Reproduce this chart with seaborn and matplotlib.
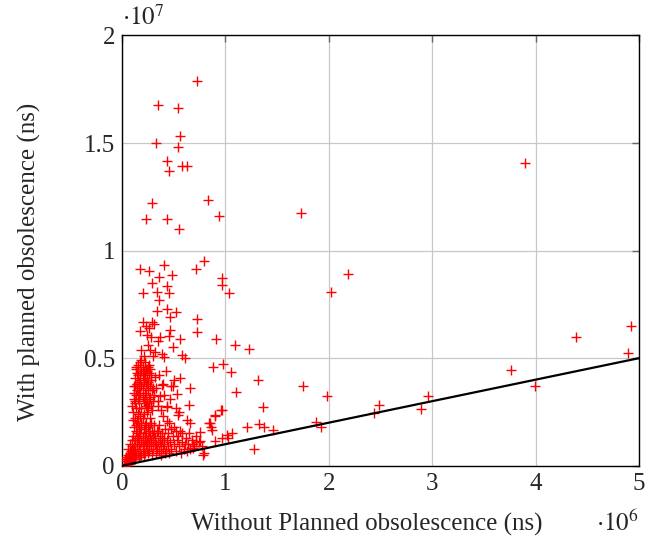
import numpy as np
import pandas as pd
import seaborn as sns
import matplotlib
matplotlib.use('Agg')
import matplotlib.pyplot as plt
from matplotlib.ticker import FuncFormatter

# x values in units of 1e6 ns, y values in units of 1e7 ns

# isolated points far from the cluster
far_x = [0.726, 0.347, 0.546, 0.566, 0.327, 0.546, 0.439, 0.459, 0.578, 0.626,
         3.896, 0.287, 0.235, 0.435, 0.554, 0.838, 0.942, 1.728,
         2.026, 2.191, 0.913, 1.097, 1.233, 0.877, 0.974, 1.058, 1.314, 1.107,
         1.754, 1.981, 1.362, 0.961, 0.903, 2.485, 2.440, 2.961, 2.893,
         3.760, 3.993, 4.388, 4.919, 4.893, 1.880, 1.929, 1.282,
         1.210, 1.323, 1.372, 1.463, 0.867, 0.845]
far_y = [1.790, 1.675, 1.663, 1.531, 1.502, 1.482, 1.417, 1.369, 1.395, 1.392,
         1.405, 1.223, 1.146, 1.149, 1.100, 1.234, 1.163, 1.173,
         0.809, 0.889, 0.588, 0.560, 0.544, 0.458, 0.473, 0.435, 0.399, 0.342,
         0.371, 0.325, 0.272, 0.260, 0.229, 0.284, 0.245, 0.323, 0.263,
         0.445, 0.371, 0.597, 0.650, 0.523, 0.201, 0.180, 0.080,
         0.182, 0.195, 0.182, 0.164, 0.180, 0.198]

# upper scattered group (0.5 .. 1.0)
upper_x = [0.175, 0.265, 0.410, 0.790, 0.718, 0.362, 0.485, 0.288, 0.207, 0.337,
           0.434, 0.460, 0.362, 0.337, 0.440, 0.524, 0.466, 0.207, 0.288, 0.175,
           0.265, 0.466, 0.279, 0.369, 0.460, 0.563, 0.498, 0.272, 0.298, 0.408,
           0.580, 0.612, 0.725, 0.731, 0.968, 0.968, 1.039, 0.255, 0.320, 0.230,
           0.390, 0.350, 0.190, 0.245, 0.310, 0.215]
upper_y = [0.913, 0.906, 0.933, 0.953, 0.913, 0.878, 0.885, 0.848, 0.804, 0.809,
           0.835, 0.804, 0.770, 0.721, 0.730, 0.715, 0.693, 0.670, 0.670, 0.626,
           0.639, 0.631, 0.597, 0.597, 0.603, 0.588, 0.554, 0.538, 0.510, 0.507,
           0.515, 0.500, 0.681, 0.623, 0.871, 0.840, 0.801, 0.560, 0.530, 0.650,
           0.520, 0.580, 0.540, 0.610, 0.660, 0.510]

# dense vertical spine (0.25 .. 0.5)
spine_x = [0.10, 0.12, 0.13, 0.14, 0.15, 0.16, 0.17, 0.18, 0.19, 0.20,
           0.21, 0.22, 0.23, 0.24, 0.25, 0.26, 0.27, 0.28, 0.29, 0.30,
           0.11, 0.13, 0.15, 0.17, 0.19, 0.21, 0.23, 0.25, 0.27, 0.29,
           0.12, 0.14, 0.16, 0.18, 0.20, 0.22, 0.24, 0.26, 0.28, 0.31,
           0.14, 0.17, 0.20, 0.23, 0.26, 0.19, 0.22, 0.25, 0.16, 0.21,
           0.18, 0.20, 0.23, 0.15, 0.24, 0.22, 0.27, 0.19, 0.17, 0.21,
           0.13, 0.16, 0.25, 0.28, 0.12, 0.18, 0.26, 0.30, 0.14, 0.22]
spine_y = [0.28, 0.34, 0.41, 0.45, 0.38, 0.47, 0.31, 0.43, 0.49, 0.36,
           0.44, 0.48, 0.33, 0.40, 0.46, 0.29, 0.37, 0.42, 0.35, 0.30,
           0.25, 0.30, 0.43, 0.39, 0.27, 0.41, 0.45, 0.35, 0.32, 0.26,
           0.37, 0.27, 0.33, 0.48, 0.46, 0.29, 0.38, 0.43, 0.40, 0.33,
           0.46, 0.36, 0.42, 0.38, 0.31, 0.44, 0.34, 0.27, 0.31, 0.39,
           0.40, 0.32, 0.28, 0.35, 0.44, 0.41, 0.45, 0.37, 0.27, 0.30,
           0.37, 0.42, 0.39, 0.28, 0.31, 0.34, 0.47, 0.36, 0.33, 0.43]

# middle spread (0.2 .. 0.45)
mid_x = [0.563, 0.660, 0.498, 0.531, 0.473, 0.385, 0.320, 0.369, 0.240, 0.126,
         0.143, 0.547, 0.660, 0.654, 0.35, 0.38, 0.41, 0.44, 0.47, 0.52,
         0.55, 0.40, 0.36, 0.43, 0.33, 0.50, 0.108, 0.347, 0.435, 0.626]
mid_y = [0.407, 0.361, 0.371, 0.334, 0.371, 0.376, 0.414, 0.322, 0.291, 0.291,
         0.380, 0.237, 0.198, 0.282, 0.30, 0.26, 0.33, 0.28, 0.31, 0.27,
         0.25, 0.38, 0.42, 0.44, 0.36, 0.40, 0.214, 0.278, 0.272, 0.214]

# dense base cluster near the diagonal (0 .. 0.25)
base_x = [0.02, 0.03, 0.04, 0.05, 0.05, 0.06, 0.06, 0.07, 0.07, 0.08,
          0.08, 0.09, 0.09, 0.10, 0.10, 0.11, 0.11, 0.12, 0.12, 0.04,
          0.03, 0.06, 0.08, 0.10,
          0.13, 0.13, 0.14, 0.14, 0.15, 0.15, 0.16, 0.16, 0.17, 0.17,
          0.18, 0.18, 0.18, 0.19, 0.19, 0.20, 0.20, 0.21, 0.21, 0.21,
          0.22, 0.22, 0.23, 0.23, 0.24, 0.24, 0.25, 0.25, 0.26, 0.26,
          0.27, 0.27, 0.28, 0.28, 0.29, 0.30, 0.30, 0.31, 0.32, 0.32,
          0.12, 0.13, 0.11, 0.16, 0.19, 0.22, 0.24, 0.17, 0.20, 0.15,
          0.33, 0.34, 0.35, 0.36, 0.37, 0.38, 0.39, 0.40, 0.41, 0.42,
          0.43, 0.44, 0.45, 0.46, 0.47, 0.48, 0.49, 0.50, 0.52, 0.53,
          0.55, 0.56, 0.58, 0.60, 0.62, 0.64, 0.66, 0.68, 0.70, 0.72,
          0.75, 0.78, 0.36, 0.40, 0.44, 0.50, 0.58, 0.34, 0.38, 0.42,
          0.968, 0.903, 0.757, 0.870, 1.017, 1.065, 1.030, 0.790, 0.690,
          0.968, 0.903, 0.757, 0.854, 0.722, 0.785,
          0.07, 0.09, 0.11, 0.13, 0.15, 0.17, 0.19, 0.21, 0.23, 0.25,
          0.27, 0.29, 0.31, 0.33, 0.35, 0.37, 0.39, 0.41, 0.45, 0.48,
          0.14, 0.16, 0.18, 0.20, 0.22, 0.26, 0.28, 0.30, 0.12, 0.10,
          0.54, 0.61, 0.65, 0.57, 0.46, 0.52, 0.63, 0.69]
base_y = [0.005, 0.01, 0.02, 0.01, 0.03, 0.02, 0.05, 0.01, 0.04, 0.03,
          0.06, 0.02, 0.05, 0.04, 0.07, 0.03, 0.06, 0.05, 0.09, 0.04,
          0.03, 0.08, 0.10, 0.12,
          0.07, 0.12, 0.05, 0.16, 0.09, 0.21, 0.06, 0.13, 0.10, 0.18,
          0.08, 0.15, 0.23, 0.11, 0.20, 0.07, 0.14, 0.09, 0.17, 0.24,
          0.12, 0.06, 0.15, 0.20, 0.08, 0.11, 0.13, 0.18, 0.07, 0.10,
          0.14, 0.22, 0.09, 0.12, 0.16, 0.08, 0.11, 0.19, 0.10, 0.13,
          0.18, 0.22, 0.14, 0.24, 0.05, 0.19, 0.25, 0.14, 0.10, 0.12,
          0.06, 0.08, 0.11, 0.07, 0.14, 0.09, 0.12, 0.08, 0.10, 0.17,
          0.07, 0.12, 0.09, 0.20, 0.11, 0.08, 0.14, 0.10, 0.07, 0.12,
          0.09, 0.16, 0.11, 0.08, 0.13, 0.10, 0.08, 0.12, 0.09, 0.14,
          0.11, 0.09, 0.19, 0.23, 0.21, 0.18, 0.15, 0.16, 0.05, 0.06,
          0.257, 0.237, 0.159, 0.167, 0.144, 0.151, 0.128, 0.059, 0.082,
          0.128, 0.113, 0.113, 0.198, 0.110, 0.049,
          0.02, 0.07, 0.08, 0.03, 0.15, 0.04, 0.17, 0.05, 0.10, 0.06,
          0.19, 0.05, 0.15, 0.10, 0.16, 0.11, 0.15, 0.13, 0.15, 0.17,
          0.19, 0.20, 0.05, 0.22, 0.14, 0.16, 0.20, 0.14, 0.03, 0.09,
          0.14, 0.10, 0.15, 0.06, 0.06, 0.16, 0.07, 0.10]

# reference line y = x
line_x = [0.0, 5.0e6]
line_y = [0.0, 5.0e6]

groups = [(far_x, far_y), (upper_x, upper_y), (spine_x, spine_y),
          (mid_x, mid_y), (base_x, base_y)]
frames = []
for gx, gy in groups:
    frames.append(pd.DataFrame({'without': np.array(gx) * 1e6,
                                'with': np.array(gy) * 1e7}))
df = pd.concat(frames, axis=0, ignore_index=True)

sns.set_theme(style='white')
plt.rcParams['font.family'] = ['Liberation Serif', 'DejaVu Serif']
plt.rcParams['mathtext.fontset'] = 'stix'

fig = plt.figure(figsize=(6.48, 5.46), dpi=100)
ax = fig.add_axes([0.188, 0.147, 0.798, 0.788])

ax.grid(True, color='#c8c8c8', linewidth=0.9, zorder=0)
ax.set_axisbelow(True)

sns.scatterplot(data=df, x='without', y='with', marker='+', color='red',
                s=55, linewidth=1.0, ax=ax, zorder=3, legend=False)
ax.plot(line_x, line_y, color='black', linewidth=1.6, zorder=4)

ax.set_xlim(0, 5e6)
ax.set_ylim(0, 2e7)
ax.set_xticks(np.arange(0, 5.1e6, 1e6))
ax.set_yticks(np.arange(0, 2.01e7, 0.5e7))
ax.xaxis.set_major_formatter(FuncFormatter(lambda v, p: '%g' % (v / 1e6)))
ax.yaxis.set_major_formatter(FuncFormatter(lambda v, p: '%g' % (v / 1e7)))
ax.tick_params(direction='in', length=5, width=1, color='#666666',
               top=True, right=True, labelsize=18, pad=5)
for sp in ax.spines.values():
    sp.set_color('black')
    sp.set_linewidth(1.0)

ax.set_xlabel('Without Planned obsolescence (ns)', fontsize=18)
ax.set_ylabel('With planned obsolescence (ns)', fontsize=18)
ax.xaxis.set_label_coords(0.474, -0.137)
ax.yaxis.set_label_coords(-0.178, 0.473)
ax.xaxis.label.set_va('center')
ax.yaxis.label.set_va('center')
ax.text(0.0, 1.012, r'$\cdot 10^{7}$', transform=ax.transAxes, fontsize=18,
        ha='left', va='bottom')
ax.text(1.0, -0.105, r'$\cdot 10^{6}$', transform=ax.transAxes, fontsize=18,
        ha='right', va='top')

fig.savefig('out.png', dpi=100)
plt.close()
